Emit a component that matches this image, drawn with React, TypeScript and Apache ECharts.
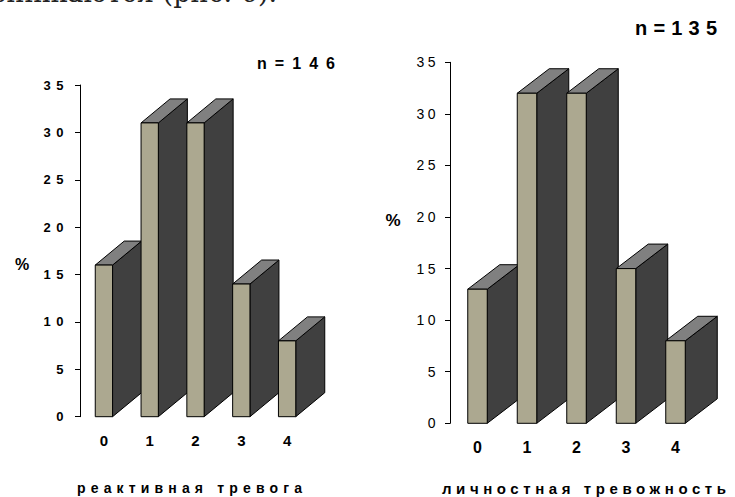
import { useEffect, useRef } from "react";
import * as echarts from "echarts";

// Anxiety level groups on the x axis
const categories = ["0", "1", "2", "3", "4"];
// Share of respondents, %
const reactiveValues = [16, 31, 31, 14, 8];
const personalValues = [13, 32, 32, 15, 8];
const yMin = 0;
const yMax = 35;
const yStep = 5;

const reactiveTitle = "реактивная тревога";
const personalTitle = "личностная тревожность";
const reactiveN = "n=146";
const personalN = "n=135";
const percentLabel = "%";
const leadText = "снижаются (рис. 6).";

const FRONT = "#aca890";
const SIDE = "#404040";
const TOP = "#808080";

// Widths that stretched captions should occupy
const captionWidths: Record<string, number> = {
  [reactiveTitle]: 225,
  [personalTitle]: 284,
  [reactiveN]: 78,
  [personalN]: 82,
};

function boxRenderer(width: number, dx: number, dy: number) {
  return (_params: any, api: any) => {
    const top = api.coord([api.value(0), api.value(1)]);
    const base = api.coord([api.value(0), 0]);
    const x0 = top[0] - width / 2;
    const x1 = top[0] + width / 2;
    const yT = top[1];
    const yB = base[1];
    const edge = { stroke: "#000", lineWidth: 1 };
    return {
      type: "group",
      children: [
        {
          type: "polygon",
          shape: { points: [[x1, yT], [x1 + dx, yT - dy], [x1 + dx, yB - dy], [x1, yB]] },
          style: { fill: SIDE, ...edge },
        },
        {
          type: "polygon",
          shape: { points: [[x0, yT], [x1, yT], [x1 + dx, yT - dy], [x0 + dx, yT - dy]] },
          style: { fill: TOP, ...edge },
        },
        {
          type: "rect",
          shape: { x: x0, y: yT, width, height: yB - yT },
          style: { fill: FRONT, ...edge },
        },
      ],
    };
  };
}

function spaceTexts(root: HTMLElement) {
  root.querySelectorAll("text").forEach((node) => {
    const el = node as SVGTextElement;
    const s = el.textContent ?? "";
    const target = captionWidths[s];
    if (target) {
      el.style.letterSpacing = "0px";
      const w = el.getComputedTextLength();
      el.style.letterSpacing = `${Math.max(0, (target - w) / Math.max(1, s.length - 1))}px`;
      return;
    }
    if (el.getAttribute("text-anchor") === "end" && /^\d+$/.test(s)) {
      const left = el.getBoundingClientRect().left < 367;
      el.style.letterSpacing = left ? "5.5px" : "3.5px";
    }
  });
}

const axisFont = "'Liberation Sans', Arial, sans-serif";

function valueAxis(gridIndex: number, offset: number, fontSize: number, weight: string, margin: number) {
  return {
    gridIndex,
    type: "value",
    min: yMin,
    max: yMax,
    interval: yStep,
    offset,
    splitLine: { show: false },
    axisLine: { show: true, lineStyle: { color: "#000", width: 1 } },
    axisTick: { show: true, length: 5, lineStyle: { color: "#000", width: 1 } },
    axisLabel: { color: "#000", fontSize, fontWeight: weight, fontFamily: axisFont, margin },
  };
}

function categoryAxis(gridIndex: number, fontSize: number, margin: number) {
  return {
    gridIndex,
    type: "category",
    data: categories,
    axisLine: { show: false },
    axisTick: { show: false },
    axisLabel: { color: "#000", fontSize, fontWeight: "bold", fontFamily: axisFont, margin },
  };
}

export default function App() {
  const ref = useRef<HTMLDivElement>(null);

  useEffect(() => {
    const el = ref.current!;
    const chart = echarts.init(el, undefined, { renderer: "svg" });
    chart.setOption({
      animation: false,
      backgroundColor: "#fff",
      grid: [
        { left: 81, top: 85, width: 229, height: 331.7 },
        { left: 452.75, top: 62.3, width: 247.5, height: 361 },
      ],
      xAxis: [categoryAxis(0, 15, 16), categoryAxis(1, 16, 16)],
      yAxis: [valueAxis(0, 1, 13, "bold", 11), valueAxis(1, 2.75, 14, "normal", 11)],
      series: [
        {
          type: "custom",
          xAxisIndex: 0,
          yAxisIndex: 0,
          clip: false,
          silent: true,
          renderItem: boxRenderer(17.3, 29, 24),
          encode: { x: 0, y: 1 },
          data: reactiveValues.map((v, i) => [i, v]),
        },
        {
          type: "custom",
          xAxisIndex: 1,
          yAxisIndex: 1,
          clip: false,
          silent: true,
          renderItem: boxRenderer(19.5, 32, 24.5),
          encode: { x: 0, y: 1 },
          data: personalValues.map((v, i) => [i, v]),
        },
      ],
      graphic: [
        {
          type: "text",
          x: 277,
          y: 5.5,
          style: {
            text: leadText,
            fill: "#222",
            font: "27px 'DejaVu Serif', serif",
            align: "right",
            verticalAlign: "bottom",
          },
        },
        {
          type: "text",
          x: 22,
          y: 264,
          style: { text: percentLabel, fill: "#000", font: `bold 16px ${axisFont}`, align: "center", verticalAlign: "middle" },
        },
        {
          type: "text",
          x: 393,
          y: 220,
          style: { text: percentLabel, fill: "#000", font: `bold 17px ${axisFont}`, align: "center", verticalAlign: "middle" },
        },
        {
          type: "text",
          x: 257,
          y: 63,
          style: { text: reactiveN, fill: "#000", font: `bold 16px ${axisFont}`, align: "left", verticalAlign: "middle" },
        },
        {
          type: "text",
          x: 635,
          y: 27.5,
          style: { text: personalN, fill: "#000", font: `bold 20px ${axisFont}`, align: "left", verticalAlign: "middle" },
        },
        {
          type: "text",
          x: 77,
          y: 488,
          style: { text: reactiveTitle, fill: "#000", font: `bold 14px ${axisFont}`, align: "left", verticalAlign: "middle" },
        },
        {
          type: "text",
          x: 442,
          y: 488,
          style: { text: personalTitle, fill: "#000", font: `bold 15px ${axisFont}`, align: "left", verticalAlign: "middle" },
        },
      ],
    });
    const apply = () => spaceTexts(el);
    chart.on("rendered", apply);
    apply();
    const raf = requestAnimationFrame(apply);
    return () => {
      cancelAnimationFrame(raf);
      chart.dispose();
    };
  }, []);

  return (
    <div
      ref={ref}
      style={{ position: "absolute", left: 0, top: 0, width: 735, height: 497, background: "#fff" }}
    />
  );
}
